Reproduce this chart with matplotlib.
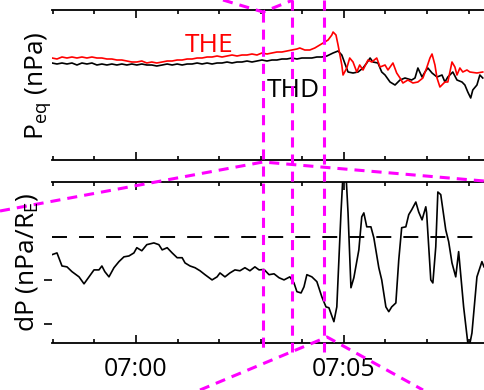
import matplotlib
matplotlib.use("Agg")
import matplotlib.pyplot as plt
from matplotlib.lines import Line2D
from matplotlib.ticker import MultipleLocator, FuncFormatter
from matplotlib.transforms import blended_transform_factory

plt.rcParams['font.family'] = ['Open Sans', 'DejaVu Sans']
plt.rcParams['mathtext.fontset'] = 'custom'
plt.rcParams['mathtext.rm'] = 'Open Sans'
plt.rcParams['mathtext.it'] = 'Open Sans:italic'

# time axis: minutes after 07:00
# THD equivalent pressure (nPa)
thd_t = [-2.02, -1.90, -1.78, -1.66, -1.54, -1.42, -1.30, -1.18, -1.06, -0.94,
         -0.82, -0.70, -0.58, -0.46, -0.34, -0.22, -0.10, 0.02, 0.14, 0.26,
         0.38, 0.50, 0.63, 0.75, 0.87, 0.99, 1.11, 1.23, 1.35, 1.47,
         1.59, 1.71, 1.83, 1.95, 2.07, 2.19, 2.31, 2.43, 2.55, 2.67,
         2.79, 2.91, 3.03, 3.15, 3.27, 3.39, 3.51, 3.63, 3.75, 3.87,
         3.99, 4.11, 4.23, 4.35, 4.47, 4.59, 4.74, 4.86, 4.95, 5.02,
         5.10, 5.22, 5.34, 5.46, 5.55, 5.63, 5.70, 5.82, 5.91, 5.99,
         6.11, 6.23, 6.35, 6.47, 6.63, 6.71, 6.78, 6.88, 6.95, 7.02,
         7.12, 7.24, 7.36, 7.43, 7.50, 7.62, 7.72, 7.84, 7.91, 7.98,
         8.05, 8.10, 8.20, 8.27, 8.34]
thd_p = [0.97, 0.96, 0.97, 0.96, 0.97, 0.95, 0.97, 0.96, 0.97, 0.95,
         0.96, 0.95, 0.96, 0.95, 0.96, 0.95, 0.96, 0.95, 0.96, 0.95,
         0.95, 0.94, 0.95, 0.96, 0.95, 0.96, 0.95, 0.96, 0.96, 0.97,
         0.96, 0.97, 0.96, 0.97, 0.97, 0.98, 0.97, 0.98, 0.98, 0.99,
         0.98, 0.99, 1.00, 0.99, 1.00, 1.00, 1.01, 1.01, 1.02, 1.01,
         1.02, 1.02, 1.02, 1.03, 1.03, 1.04, 1.07, 1.09, 1.05, 0.97,
         0.88, 0.87, 0.88, 0.92, 0.97, 1.02, 0.98, 0.97, 0.88, 0.85,
         0.78, 0.75, 0.80, 0.82, 0.80, 0.82, 0.92, 0.83, 0.88, 0.92,
         0.87, 0.83, 0.85, 0.78, 0.83, 0.88, 0.80, 0.78, 0.75, 0.68,
         0.62, 0.70, 0.75, 0.85, 0.82]

# THE equivalent pressure (nPa)
the_t = [-2.02, -1.90, -1.78, -1.66, -1.54, -1.42, -1.30, -1.18, -1.06, -0.94,
         -0.82, -0.70, -0.58, -0.46, -0.34, -0.22, -0.10, 0.02, 0.14, 0.26,
         0.38, 0.50, 0.63, 0.75, 0.87, 0.99, 1.11, 1.23, 1.35, 1.47,
         1.59, 1.71, 1.83, 1.95, 2.07, 2.19, 2.31, 2.43, 2.55, 2.67,
         2.79, 2.91, 3.03, 3.15, 3.27, 3.39, 3.51, 3.63, 3.75, 3.87,
         3.94, 4.06, 4.18, 4.30, 4.42, 4.54, 4.62, 4.71, 4.74, 4.81,
         4.86, 4.95, 4.98, 5.07, 5.14, 5.22, 5.31, 5.38, 5.46, 5.58,
         5.67, 5.79, 5.87, 5.99, 6.06, 6.18, 6.27, 6.35, 6.42, 6.54,
         6.66, 6.78, 6.90, 6.99, 7.07, 7.12, 7.19, 7.24, 7.31, 7.43,
         7.50, 7.60, 7.67, 7.72, 7.79, 7.86, 7.96, 8.03, 8.20, 8.34]
the_p = [1.02, 1.01, 1.03, 1.02, 1.03, 1.02, 1.03, 1.02, 1.03, 1.02,
         1.02, 1.01, 1.01, 1.00, 1.00, 0.99, 0.98, 0.98, 0.99, 0.97,
         0.98, 0.97, 0.98, 0.99, 0.99, 1.00, 1.00, 1.01, 1.01, 1.02,
         1.02, 1.03, 1.03, 1.04, 1.03, 1.04, 1.05, 1.04, 1.05, 1.05,
         1.06, 1.05, 1.07, 1.06, 1.07, 1.08, 1.08, 1.09, 1.10, 1.11,
         1.12, 1.10, 1.10, 1.12, 1.15, 1.18, 1.20, 1.25, 1.28, 1.25,
         1.15, 0.95, 0.85, 0.92, 1.02, 0.98, 0.88, 0.95, 0.90, 1.00,
         0.98, 1.02, 0.93, 0.95, 0.90, 0.97, 0.87, 0.82, 0.77, 0.80,
         0.77, 0.78, 0.82, 0.92, 1.02, 1.06, 0.95, 0.82, 0.73, 0.78,
         0.78, 0.98, 0.93, 0.85, 0.92, 0.88, 0.90, 0.88, 0.87, 0.88]

# pressure gradient dP (nPa/RE)
dp_t = [-2.02, -1.90, -1.78, -1.66, -1.54, -1.37, -1.25, -1.13, -1.01, -0.89,
        -0.82, -0.75, -0.65, -0.53, -0.41, -0.29, -0.17, -0.05, 0.02, 0.14,
        0.26, 0.43, 0.55, 0.63, 0.75, 0.87, 0.99, 1.11, 1.18, 1.30,
        1.42, 1.54, 1.66, 1.83, 1.95, 2.02, 2.14, 2.26, 2.38, 2.50,
        2.62, 2.74, 2.86, 2.96, 3.08, 3.20, 3.32, 3.44, 3.56, 3.70,
        3.80, 3.87, 3.97, 4.04, 4.11, 4.23, 4.35, 4.47, 4.57, 4.64,
        4.76, 4.83, 4.93, 4.98, 5.05, 5.10, 5.17, 5.24, 5.36, 5.43,
        5.48, 5.55, 5.65, 5.72, 5.84, 5.91, 6.01, 6.08, 6.15, 6.25,
        6.32, 6.39, 6.49, 6.56, 6.63, 6.73, 6.80, 6.88, 6.97, 6.99,
        7.09, 7.14, 7.21, 7.26, 7.33, 7.45, 7.52, 7.60, 7.69, 7.76,
        7.88, 8.00, 8.08, 8.20, 8.32, 8.37]
dp_v = [-0.41, -0.37, -0.67, -0.69, -0.80, -0.92, -1.08, -0.92, -0.76, -0.76,
        -0.67, -0.80, -0.92, -0.71, -0.57, -0.46, -0.44, -0.37, -0.25, -0.32,
        -0.18, -0.14, -0.18, -0.30, -0.25, -0.37, -0.48, -0.48, -0.60, -0.67,
        -0.71, -0.78, -0.87, -0.99, -0.92, -0.83, -0.92, -0.83, -0.76, -0.78,
        -0.71, -0.78, -0.69, -0.76, -0.75, -0.87, -0.85, -0.94, -0.99, -0.92,
        -1.06, -1.26, -1.29, -1.15, -0.87, -0.92, -1.03, -1.38, -1.61, -1.63,
        -1.95, -1.61, 0.55, 1.45, 1.45, 0.55, -1.17, -0.94, -0.30, 0.46,
        0.55, 0.23, 0.23, -0.02, -0.71, -0.99, -1.61, -1.72, -1.61, -1.52,
        -0.53, 0.21, 0.23, 0.51, 0.62, 0.80, 0.57, 0.39, 0.69, 0.55,
        -0.99, -1.06, -0.23, 1.03, 0.97, 0.16, -0.11, -0.60, -0.92, -0.34,
        -1.61, -2.60, -2.21, -0.92, -0.57, -0.69]

# interval markers (minutes after 07:00)
zoom_t = [3.05, 3.75, 4.52]

x_range = (-2.02, 8.37)

W, H = 484, 390
fig = plt.figure(figsize=(W / 100, H / 100), dpi=100)
ax1 = fig.add_axes([52 / W, 230 / H, 432 / W, 150 / H])
ax2 = fig.add_axes([52 / W, 47 / H, 432 / W, 161 / H])

ax1.plot(thd_t, thd_p, color='black', lw=1.2)
ax1.plot(the_t, the_p, color='red', lw=1.2)
ax1.set_ylim(0, 1.5)
ax1.text(0.308, 0.72, 'THE', color='red', fontsize=19, transform=ax1.transAxes, va='baseline')
ax1.text(0.498, 0.42, 'THD', color='black', fontsize=19, transform=ax1.transAxes, va='baseline')

ax2.plot(dp_t, dp_v, color='black', lw=1.2)
ax2.axhline(0, color='black', lw=1.4, dashes=(7.7, 6.2))
ax2.set_ylim(-2.44, 1.26)

def hhmm(v, pos):
    m = int(round(v))
    return f"{7 + m // 60:02d}:{m % 60:02d}"

for ax in (ax1, ax2):
    ax.set_xlim(*x_range)
    for s in ('left', 'right'):
        ax.spines[s].set_visible(False)
    for s in ('top', 'bottom'):
        ax.spines[s].set_linewidth(1.3)
    ax.xaxis.set_major_locator(MultipleLocator(5))
    ax.xaxis.set_minor_locator(MultipleLocator(1))
    ax.tick_params(axis='x', which='both', direction='in', top=True, bottom=True, width=1.2)
    ax.tick_params(axis='x', which='major', length=5.5)
    ax.tick_params(axis='x', which='minor', length=3)

ax1.tick_params(axis='x', labelbottom=False)
ax1.set_yticks([])
ax2.xaxis.set_major_formatter(FuncFormatter(hhmm))
ax2.tick_params(axis='x', labelsize=18, pad=10)
ax2.set_yticks([-1, -2])
ax2.tick_params(axis='y', direction='out', length=6, width=1.2, labelleft=False, pad=2)

fig.text(38 / W, 1 - 86 / H, r'P$_{\mathrm{eq}}$ (nPa)', rotation=90, ha='center', va='center', fontsize=19)
fig.text(27 / W, 1 - 262 / H, r'dP (nPa/R$_{\mathrm{E}}$)', rotation=90, ha='center', va='center', fontsize=19)

# magenta zoom guides
guide = dict(color='#ff00ff', lw=2.2, dashes=(3.3, 2.3))
vtrans = blended_transform_factory(ax1.transData, fig.transFigure)
tops = [1 - 12 / H, 1.0, 1.0]
for t, top in zip(zoom_t, tops):
    fig.add_artist(Line2D([t, t], [top, 1 - 352 / H], transform=vtrans, **guide))

def guide_px(xs, ys):
    fig.add_artist(Line2D([x / W for x in xs], [1 - y / H for y in ys],
                          transform=fig.transFigure, **guide))

guide_px([223, 263, 293], [0, 12, 0])
guide_px([0, 263, 484], [211, 162, 181])
guide_px([200, 327, 423], [390, 337, 390])

fig.savefig('out.png', dpi=100)
